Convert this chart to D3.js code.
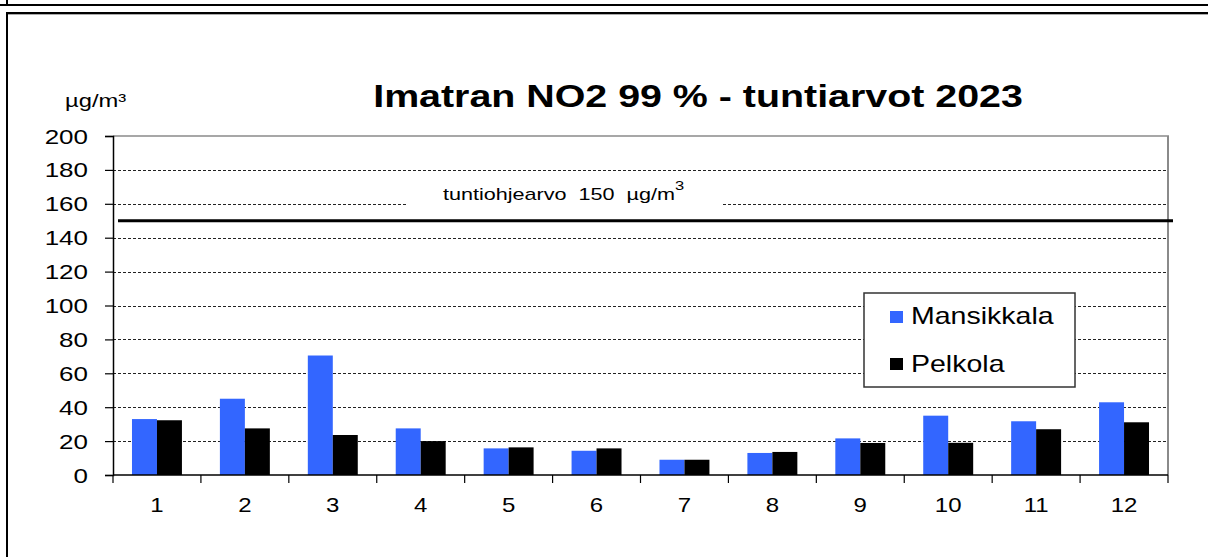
<!DOCTYPE html>
<html>
<head>
<meta charset="utf-8">
<script src="https://cdn.jsdelivr.net/npm/d3@7"></script>
<style>
  body { margin: 0; background: #fff; }
  text { font-family: "Liberation Sans", Arial, sans-serif; }
</style>
</head>
<body>
<div id="chart"></div>
<script>
const months = ["1", "2", "3", "4", "5", "6", "7", "8", "9", "10", "11", "12"];
const seriesNames = ["Mansikkala", "Pelkola"];
const mansikkala = [33, 45, 70.5, 27.5, 15.7, 14.3, 9, 13, 21.6, 35, 31.7, 42.9];
const pelkola = [32.3, 27.5, 23.6, 20, 16.3, 15.7, 9, 13.6, 18.9, 19, 27, 31.1];
const yTicks = [0, 20, 40, 60, 80, 100, 120, 140, 160, 180, 200];
const limitValue = 150;

const width = 1208, height = 557;
const margin = { top: 136, right: 40, bottom: 82, left: 113 };
const colors = { "Mansikkala": "#3366ff", "Pelkola": "#000000" };
const SX = 1.3; // glyphs in the source are stretched horizontally

const svg = d3.select("#chart").append("svg")
    .attr("width", width)
    .attr("height", height)
    .style("display", "block");

// helper: horizontally stretched text
function label(g, x, y, str, size, anchor = "start", weight = "normal", sx = SX) {
    return g.append("text")
        .attr("transform", `translate(${x},${y}) scale(${sx},1)`)
        .attr("text-anchor", anchor)
        .attr("font-size", size)
        .attr("font-weight", weight)
        .attr("fill", "#000")
        .text(str);
}

// outer frame lines
svg.append("line").attr("x1", 0).attr("x2", width).attr("y1", 5).attr("y2", 5)
    .attr("stroke", "#000").attr("stroke-width", 2);
svg.append("line").attr("x1", 7).attr("x2", 7).attr("y1", 0).attr("y2", 5)
    .attr("stroke", "#000").attr("stroke-width", 2);
svg.append("line").attr("x1", 6).attr("x2", width).attr("y1", 14.5).attr("y2", 14.5)
    .attr("stroke", "#aaa").attr("stroke-width", 1);
svg.append("line").attr("x1", 6).attr("x2", width).attr("y1", 13).attr("y2", 13)
    .attr("stroke", "#000").attr("stroke-width", 2);
svg.append("line").attr("x1", 7).attr("x2", 7).attr("y1", 12).attr("y2", height)
    .attr("stroke", "#000").attr("stroke-width", 2);

const x0 = d3.scaleBand()
    .domain(months)
    .range([margin.left, width - margin.right])
    .paddingInner(0)
    .paddingOuter(0);

const x1 = d3.scaleBand()
    .domain(seriesNames)
    .range([0, x0.bandwidth()])
    .paddingInner(0)
    .paddingOuter(0.76);

const y = d3.scaleLinear()
    .domain([0, 200])
    .range([height - margin.bottom, margin.top]);

const plotRight = width - margin.right;
const plotBottom = height - margin.bottom;

// gridlines
svg.append("g")
    .selectAll("line")
    .data(yTicks.filter(t => t > 0 && t < 200))
    .join("line")
    .attr("x1", margin.left)
    .attr("x2", plotRight)
    .attr("y1", d => Math.round(y(d)) + 0.5)
    .attr("y2", d => Math.round(y(d)) + 0.5)
    .attr("stroke", "#222")
    .attr("stroke-width", 1)
    .attr("stroke-dasharray", "3,2");

// plot border top/right (gray)
svg.append("line")
    .attr("x1", margin.left).attr("x2", plotRight + 1)
    .attr("y1", y(200)).attr("y2", y(200))
    .attr("stroke", "#8a8a8a").attr("stroke-width", 1.5);
svg.append("line")
    .attr("x1", plotRight).attr("x2", plotRight)
    .attr("y1", y(200)).attr("y2", plotBottom)
    .attr("stroke", "#8a8a8a").attr("stroke-width", 2);

// threshold label with white background
svg.append("rect")
    .attr("x", 407).attr("y", 178)
    .attr("width", 316).attr("height", 30)
    .attr("fill", "#fff");

const lim = svg.append("text")
    .attr("transform", `translate(443,${y(limitValue) - 21}) scale(1.27,1)`)
    .attr("font-size", 17)
    .attr("fill", "#000")
    .style("white-space", "pre");
lim.append("tspan").text("tuntiohjearvo  150  µg/m");
lim.append("tspan").attr("dy", -10).attr("font-size", 13).text("3");

// bars
const data = months.map((m, i) => ({ month: m, values: [
    { key: "Mansikkala", value: mansikkala[i] },
    { key: "Pelkola", value: pelkola[i] }
]}));

svg.append("g")
    .selectAll("g")
    .data(data)
    .join("g")
    .attr("transform", d => `translate(${x0(d.month)},0)`)
    .selectAll("rect")
    .data(d => d.values)
    .join("rect")
    .attr("x", d => x1(d.key))
    .attr("y", d => y(d.value))
    .attr("width", x1.bandwidth())
    .attr("height", d => y(0) - y(d.value))
    .attr("fill", d => colors[d.key]);

// threshold line
svg.append("line")
    .attr("x1", margin.left + 5)
    .attr("x2", plotRight + 5)
    .attr("y1", y(limitValue))
    .attr("y2", y(limitValue))
    .attr("stroke", "#000")
    .attr("stroke-width", 3);

// y axis
const yAxis = svg.append("g")
    .attr("transform", `translate(${margin.left},0)`)
    .call(d3.axisLeft(y).tickValues(yTicks).tickSize(8).tickFormat(""));
yAxis.select(".domain").attr("stroke", "#000").attr("stroke-width", 1.5);
yAxis.selectAll(".tick line").attr("stroke", "#000").attr("stroke-width", 1.2);

yTicks.forEach(t => label(svg, 88, y(t) + 7.5, String(t), 20, "end"));

// x axis
const xTickPos = months.map(m => x0(m)).concat([plotRight]);
const xAxis = svg.append("g").attr("class", "x-axis");
xAxis.append("line")
    .attr("x1", margin.left).attr("x2", plotRight)
    .attr("y1", plotBottom).attr("y2", plotBottom)
    .attr("stroke", "#000").attr("stroke-width", 1.5);
xAxis.selectAll(".xt")
    .data(xTickPos)
    .join("line")
    .attr("class", "xt")
    .attr("x1", d => d).attr("x2", d => d)
    .attr("y1", plotBottom).attr("y2", plotBottom + 8)
    .attr("stroke", "#000").attr("stroke-width", 1.2);

months.forEach(m => label(svg, x0(m) + x0.bandwidth() / 2, 512, m, 20, "middle", "normal", 1.2));

// unit label
label(svg, 65, 107, "µg/m³", 19, "start", "normal", 1.25);

// title
label(svg, 698, 107, "Imatran NO2 99 % - tuntiarvot 2023", 31, "middle", "bold", 1.27);

// legend
const legend = svg.append("g");
legend.append("rect")
    .attr("x", 864).attr("y", 293)
    .attr("width", 211).attr("height", 94)
    .attr("fill", "#fff")
    .attr("stroke", "#333")
    .attr("stroke-width", 1.5);

seriesNames.forEach((name, i) => {
    legend.append("rect")
        .attr("x", 890).attr("y", 311 + i * 47)
        .attr("width", 13).attr("height", 12)
        .attr("fill", colors[name]);
    label(legend, 911, 324 + i * 48, name, 23, "start", "normal", 1.24);
});
</script>
</body>
</html>
